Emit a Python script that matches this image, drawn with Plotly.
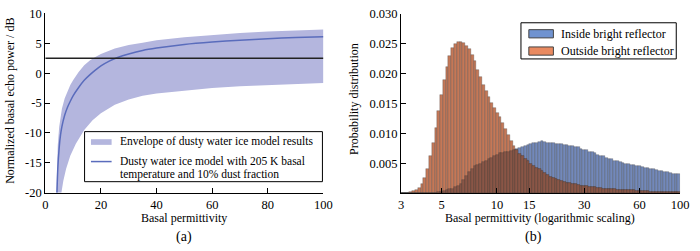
import numpy as np
import plotly.graph_objects as go

# ---------------- Panel (a) data ----------------
line_x = [4.2, 4.5, 5.0, 5.5, 6.0, 7.0, 8.0, 9.0, 10, 12, 14, 16, 18, 20, 23, 26, 30, 35, 40, 50, 60, 70, 80, 90, 100]
line_y = [-20, -16, -12.5, -10.3, -8.9, -7.0, -5.7, -4.7, -3.8, -2.4, -1.2, -0.3, 0.5, 1.2, 2.0, 2.6, 3.2, 3.8, 4.2, 4.8, 5.2, 5.5, 5.75, 5.95, 6.1]

upper_x = [4.0, 4.2, 4.5, 5.0, 5.5, 6.0, 7.0, 8.0, 9.0, 10, 12, 14, 16, 18, 20, 25, 30, 35, 40, 50, 60, 70, 80, 90, 100]
upper_y = [-20, -16, -12, -9, -7.2, -5.9, -4.2, -3.0, -2.0, -1.2, 0.2, 1.3, 2.1, 2.7, 3.2, 4.1, 4.7, 5.1, 5.5, 6.0, 6.4, 6.7, 6.95, 7.15, 7.3]

lower_x = [5.8, 6.5, 7.5, 9, 11, 14, 17, 20, 25, 30, 35, 40, 50, 60, 70, 80, 90, 100]
lower_y = [-20, -18, -16, -13.8, -11.8, -9.5, -7.9, -6.7, -5.3, -4.4, -3.8, -3.4, -2.9, -2.5, -2.2, -2.0, -1.8, -1.65]

threshold_db = 2.5

x_ticks_a = [0, 20, 40, 60, 80, 100]
y_ticks_a = [-20, -15, -10, -5, 0, 5, 10]

# ---------------- Panel (b) data ----------------
bin_edges = np.logspace(np.log10(3), 2, 101)

outside_vals = [
    0.00002, 0.00005, 0.0001, 0.0002, 0.0004, 0.0006, 0.0009, 0.0015, 0.0025, 0.0041,
    0.0062, 0.0085, 0.0110, 0.0138, 0.0165, 0.0189, 0.0211, 0.0230, 0.0243, 0.0250,
    0.0254, 0.0254, 0.0252, 0.0247, 0.0241, 0.0231, 0.0221, 0.0207, 0.0194, 0.0182,
    0.0171, 0.0161, 0.0152, 0.0143, 0.0135, 0.0127, 0.0118, 0.0108, 0.0098, 0.0088,
    0.0079, 0.0072, 0.0066, 0.0062, 0.0058, 0.0054, 0.0050, 0.0046, 0.0043, 0.0040,
    0.0037, 0.0034, 0.0031, 0.0028, 0.0026, 0.0024, 0.0022, 0.0020, 0.0019, 0.0018,
    0.0017, 0.0016, 0.0015, 0.0014, 0.0013, 0.0013, 0.0012, 0.0011, 0.0011, 0.0010,
    0.0009, 0.0009, 0.0008, 0.0008, 0.0007, 0.0007, 0.0007, 0.0006, 0.0006, 0.0006,
    0.0005, 0.0005, 0.0005, 0.0005, 0.0004, 0.0004, 0.0004, 0.0004, 0.0004, 0.0003,
    0.0003, 0.0003, 0.0003, 0.0003, 0.0003, 0.0003, 0.0002, 0.0002, 0.0002, 0.0002,
]

inside_vals = [
    0, 0, 0, 0, 0, 0, 0, 0.00001, 0.00002, 0.00004,
    0.00007, 0.0001, 0.00015, 0.0002, 0.0003, 0.0004, 0.0005, 0.0007, 0.0008, 0.0010,
    0.0013, 0.0016, 0.0022, 0.0029, 0.0036, 0.0041, 0.0045, 0.0048, 0.0050, 0.0053,
    0.0055, 0.0057, 0.0060, 0.0063, 0.0065, 0.0067, 0.0068, 0.0069, 0.0070, 0.0071,
    0.0072, 0.0074, 0.0076, 0.0078, 0.0079, 0.0081, 0.0083, 0.0084, 0.0085, 0.0086,
    0.0087, 0.0086, 0.0085, 0.0084, 0.0084, 0.0083, 0.0082, 0.0082, 0.0081, 0.0081,
    0.0080, 0.0079, 0.0078, 0.0077, 0.0075, 0.0073, 0.0072, 0.0070, 0.0069, 0.0067,
    0.0065, 0.0063, 0.0062, 0.0060, 0.0058, 0.0057, 0.0055, 0.0054, 0.0052, 0.0051,
    0.0050, 0.0049, 0.0048, 0.0047, 0.0046, 0.0045, 0.0044, 0.0043, 0.0042, 0.0041,
    0.0040, 0.0039, 0.0038, 0.0037, 0.0036, 0.0035, 0.0034, 0.0033, 0.0033, 0.0032,
]

x_ticks_b = [3, 5, 10, 15, 30, 60, 100]
y_ticks_b = [0.005, 0.010, 0.015, 0.020, 0.025, 0.030]

# ---------------- Styling ----------------
FONT = "Liberation Serif"
ENV_COLOR = "#b4b6de"
LINE_COLOR = "#5a6cbc"
BLUE = "#7389ba"
ORANGE = "#c47858"
OVERLAP = "#8a5646"
EDGE = "rgba(55,55,55,0.55)"
W, H = 700, 251


def px(x):
    return x / W


def py(y):
    return 1 - y / H


fig = go.Figure()

# envelope polygon
fig.add_trace(go.Scatter(
    x=upper_x + lower_x[::-1], y=upper_y + lower_y[::-1],
    fill="toself", fillcolor=ENV_COLOR, mode="lines", line=dict(width=0, color=ENV_COLOR),
    showlegend=False, xaxis="x", yaxis="y", hoverinfo="skip"))
fig.add_trace(go.Scatter(
    x=line_x, y=line_y, mode="lines", line=dict(color=LINE_COLOR, width=1.5, shape="spline", smoothing=0.6),
    showlegend=False, xaxis="x", yaxis="y"))
fig.add_trace(go.Scatter(
    x=[0, 100], y=[threshold_db, threshold_db], mode="lines",
    line=dict(color="#222222", width=1.6), showlegend=False, xaxis="x", yaxis="y"))

# histogram bars (log10 positions on linear axis)
log_edges = np.log10(bin_edges)
centers = (log_edges[:-1] + log_edges[1:]) / 2
widths = np.diff(log_edges)
inside = np.array(inside_vals)
outside = np.array(outside_vals)
overlap = np.minimum(inside, outside)

for vals, col in [(inside, BLUE), (outside, ORANGE), (overlap, OVERLAP)]:
    fig.add_trace(go.Bar(
        x=centers, y=vals, width=widths, marker=dict(color=col, line=dict(color=EDGE, width=0.5)),
        showlegend=False, xaxis="x2", yaxis="y2"))

axis_common = dict(showline=True, linecolor="black", linewidth=1, ticks="inside", ticklen=5,
                   tickcolor="black", tickwidth=1, showgrid=False, zeroline=False,
                   tickfont=dict(family=FONT, size=12.5, color="black"), mirror=False,
                   ticklabeloverflow="allow")

fig.update_layout(
    width=W, height=H,
    margin=dict(l=0, r=0, t=0, b=0),
    paper_bgcolor="white", plot_bgcolor="white",
    font=dict(family=FONT, size=12, color="black"),
    barmode="overlay", bargap=0, showlegend=False,
    xaxis=dict(domain=[px(43), px(326)], range=[0, 100], tickvals=x_ticks_a,
               anchor="y", **axis_common),
    yaxis=dict(domain=[py(196.7), py(6.7)], range=[-20, 10],
               tickvals=y_ticks_a, ticktext=[str(v) for v in y_ticks_a], anchor="x", **axis_common),
    xaxis2=dict(domain=[px(405), px(689)], range=[np.log10(3), 2],
                tickvals=list(np.log10(x_ticks_b)), ticktext=[str(v) for v in x_ticks_b],
                anchor="y2", **axis_common),
    yaxis2=dict(domain=[py(197.3), py(7.3)], range=[0, 0.030],
                tickvals=y_ticks_b, ticktext=[f"{v:.3f}" for v in y_ticks_b], anchor="x2", **axis_common),
)

# manual legends
shapes = [
    # panel (a)
    dict(type="rect", x0=px(83), x1=px(325), y0=py(185), y1=py(132),
         line=dict(color="black", width=1), fillcolor="white"),
    dict(type="rect", x0=px(89.5), x1=px(110.5), y0=py(146), y1=py(140),
         line=dict(width=0), fillcolor=ENV_COLOR),
    dict(type="line", x0=px(89.5), x1=px(110.5), y0=py(163.7), y1=py(163.7),
         line=dict(color=LINE_COLOR, width=1.5)),
    # panel (b)
    dict(type="rect", x0=px(527), x1=px(685), y0=py(55), y1=py(16.7),
         line=dict(color="black", width=1), fillcolor="white"),
    dict(type="rect", x0=px(535), x1=px(560), y0=py(32.7), y1=py(24),
         line=dict(color="#444444", width=1), fillcolor="#7093d0"),
    dict(type="rect", x0=px(535), x1=px(560), y0=py(51), y1=py(42.3),
         line=dict(color="#444444", width=1), fillcolor="#e98a60"),
]
for s in shapes:
    s.update(xref="paper", yref="paper", layer="above")
fig.update_layout(shapes=shapes)

ann = [
    dict(text="Envelope of dusty water ice model results", x=px(116.5), y=py(142.7), xanchor="left", yanchor="middle", size=11.5),
    dict(text="Dusty water ice model with 205 K basal", x=px(116.5), y=py(163.7), xanchor="left", yanchor="middle", size=11.5),
    dict(text="temperature and 10% dust fraction", x=px(116.5), y=py(177.7), xanchor="left", yanchor="middle", size=11.5),
    dict(text="Inside bright reflector", x=px(566), y=py(28.3), xanchor="left", yanchor="middle"),
    dict(text="Outside bright reflector", x=px(566), y=py(46.7), xanchor="left", yanchor="middle"),
    dict(text="Basal permittivity", x=px(184.5), y=py(223), xanchor="center", yanchor="middle"),
    dict(text="(a)", x=px(184.5), y=py(244), xanchor="center", yanchor="middle", size=14),
    dict(text="Basal permittivity (logarithmic scaling)", x=px(546), y=py(223), xanchor="center", yanchor="middle"),
    dict(text="(b)", x=px(540), y=py(244), xanchor="center", yanchor="middle", size=14),
    dict(text="Normalized basal echo power / dB", x=px(7.5), y=py(99), xanchor="center", yanchor="middle", textangle=-90),
    dict(text="Probability distribution", x=px(357), y=py(97.5), xanchor="center", yanchor="middle", textangle=-90),
]
for a in ann:
    size = a.pop("size", 12)
    a.update(font=dict(family=FONT, size=size, color="black"), xref="paper", yref="paper", showarrow=False)
fig.update_layout(annotations=ann)

fig.write_html("out.html", config={"displayModeBar": False},
               post_script="document.body.style.margin='0';document.body.style.overflow='hidden';")
